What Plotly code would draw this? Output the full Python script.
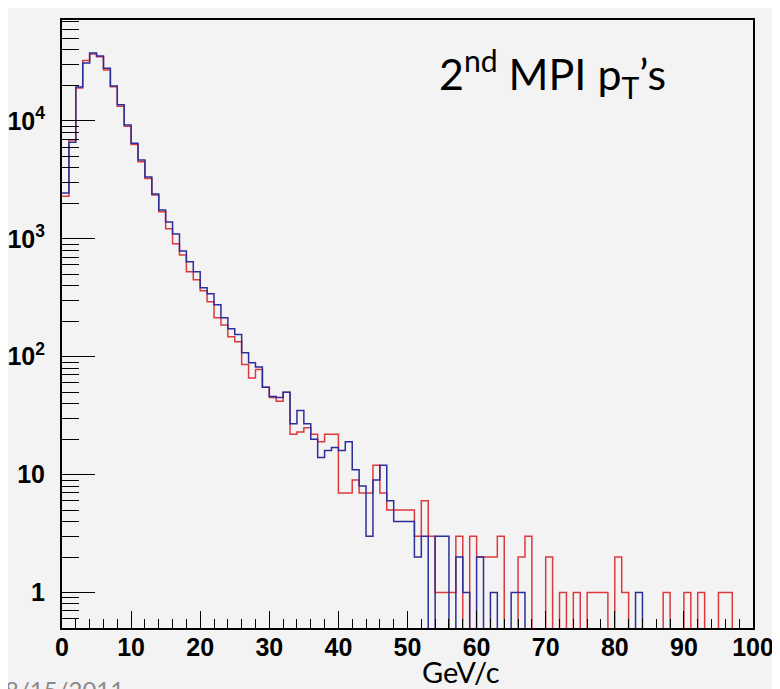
import numpy as np
import plotly.graph_objects as go

# ---- data (1 GeV/c bins from 0 to 100) ----
bin_width = 1.0
red_counts = [
    2300, 6900, 19000, 32500, 37000, 35000, 27000, 19500, 13300, 9000,
    6300, 4500, 3250, 2350, 1700, 1215, 910, 730, 525, 450,
    362, 292, 214, 186, 148, 134, 86, 66, 78, 55,
    45, 42, 50, 22, 23, 25, 22, 19, 22, 22,
    7, 7, 9, 7, 7, 12, 7, 5, 5, 5,
    5, 3, 6, 3, 1, 1, 1, 3, 0, 3,
    2, 2, 2, 3, 0, 0, 2, 3, 0, 0,
    2, 0, 1, 0, 1, 0, 1, 1, 1, 0,
    2, 1, 0, 0, 0, 0, 0, 1, 0, 0,
    1, 0, 1, 0, 0, 1, 1, 0, 0, 0,
]
blue_counts = [
    2450, 6600, 19400, 31000, 37700, 35600, 28000, 19800, 13700, 9250,
    6480, 4660, 3350, 2400, 1760, 1390, 1100, 790, 640, 525,
    385, 342, 276, 214, 173, 154, 108, 89, 82, 55,
    46, 45, 50, 27, 35, 27, 20, 14, 16, 17,
    16, 19, 11, 8, 3, 9, 12, 6, 4, 4,
    4, 2, 3, 0, 3, 3, 0, 2, 1, 0,
    2, 0, 1, 0, 0, 1, 1, 0, 0, 0,
    0, 0, 0, 0, 0, 0, 0, 0, 0, 0,
    0, 0, 0, 1, 0, 0, 0, 0, 0, 0,
    0, 0, 0, 0, 0, 0, 0, 0, 0, 0,
]
x_tick_vals = [0, 10, 20, 30, 40, 50, 60, 70, 80, 90, 100]
y_tick_vals = [1, 10, 100, 1000, 10000]
y_tick_text = ["1", "10", "10<sup>2</sup>", "10<sup>3</sup>", "10<sup>4</sup>"]

# ---- build step outlines ----
n_bins = len(red_counts)
edges = np.arange(n_bins + 1) * bin_width
FLOOR = 0.05  # empty bins drop below the visible range, like ROOT


def step_y(counts):
    c = [v if v > 0 else FLOOR for v in counts]
    return c + [c[-1]]


BG = "#f3f3f3"
fig = go.Figure()
fig.add_trace(go.Scatter(x=edges, y=step_y(red_counts), mode="lines",
                         line=dict(shape="hv", color="#dd3a3e", width=1.5),
                         showlegend=False, hoverinfo="skip"))
fig.add_trace(go.Scatter(x=edges, y=step_y(blue_counts), mode="lines",
                         line=dict(shape="hv", color="#2e2e9a", width=1.5),
                         showlegend=False, hoverinfo="skip"))

y_minor = []
for dec in [0.1, 1, 10, 100, 1000, 10000]:
    for m in range(2, 10):
        v = m * dec
        if 0.5 <= v <= 72000 and v not in y_tick_vals:
            y_minor.append(v)

tick_font = dict(family="Liberation Sans, Arial, sans-serif", size=25,
                 color="black", weight="bold")

# the page body adds an 8px offset, so the figure is 8px smaller
fig.update_layout(
    width=772, height=681,
    margin=dict(l=54, r=27, t=12, b=61, autoexpand=False),
    paper_bgcolor=BG, plot_bgcolor=BG,
    xaxis=dict(
        range=[0, 100], showgrid=False, zeroline=False,
        showline=True, linecolor="black", linewidth=2, mirror=True,
        ticks="inside", ticklen=17, tickwidth=1, tickcolor="black",
        tickvals=x_tick_vals, ticktext=[str(v) for v in x_tick_vals],
        tickfont=tick_font, ticklabelstandoff=-4,
        minor=dict(ticks="inside", ticklen=9, tickwidth=1, tickcolor="black", dtick=2, showgrid=False),
    ),
    yaxis=dict(
        type="log", range=[np.log10(0.5), np.log10(71800)],
        showgrid=False, zeroline=False,
        showline=True, linecolor="black", linewidth=2, mirror=True,
        ticks="inside", ticklen=33, tickwidth=1, tickcolor="black",
        tickvals=y_tick_vals, ticktext=y_tick_text,
        tickfont=tick_font, ticklabelstandoff=10,
        minor=dict(ticks="inside", ticklen=17, tickwidth=1, tickcolor="black",
                   tickvals=y_minor, showgrid=False),
    ),
)

fig.add_annotation(xref="paper", yref="paper", x=0.542, y=0.912,
                   xanchor="left", yanchor="middle", showarrow=False,
                   text="2<sup>nd</sup> MPI p<sub>T</sub>\u2019s",
                   font=dict(family="Lato, Open Sans, sans-serif", size=43, color="black"))
fig.add_annotation(xref="paper", yref="paper", x=0.578, y=-0.072,
                   xanchor="center", yanchor="middle", showarrow=False,
                   text="GeV/c",
                   font=dict(family="Lato, Open Sans, sans-serif", size=29, color="black"))
fig.add_annotation(xref="paper", yref="paper", x=-0.085, y=-0.074,
                   xanchor="left", yanchor="top", showarrow=False,
                   text="8/15/2011",
                   font=dict(family="Lato, Open Sans, sans-serif", size=24, color="#8a8a8a"))

fig.write_html("out.html")
